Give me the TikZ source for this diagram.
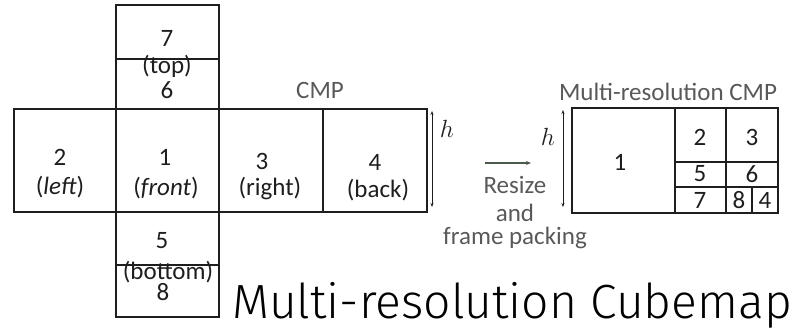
\documentclass[tikz,border=0pt]{standalone}
\usepackage{fontspec}
\setmainfont{Carlito}
\newfontfamily\titlefont{Fira Sans Light}
\usetikzlibrary{arrows.meta}
\definecolor{boxline}{HTML}{1E1E1E}
\definecolor{greytext}{HTML}{595959}
\definecolor{arrowgreen}{HTML}{4B5A4B}
\tikzset{
  boxstyle/.style={draw=boxline, line width=1.6pt},
  lbl/.style={inner sep=0pt, font=\fontsize{25}{27}\selectfont, text=boxline},
  glbl/.style={inner sep=0pt, font=\fontsize{25}{27}\selectfont, text=greytext},
  dim/.style={draw=boxline, line width=0.9pt, {Stealth[length=4pt,width=3pt]}-{Stealth[length=4pt,width=3pt]}},
  hlbl/.style={inner sep=0pt, font=\fontsize{27}{29}\selectfont, text=boxline},
}
\begin{document}
\begin{tikzpicture}[x=1pt,y=-1pt]
\useasboundingbox (0,0) rectangle (792,330);
% cross-shaped CMP layout
\draw[boxstyle] (116,5) rectangle (219,109);
\draw[boxstyle] (116,59) -- (219,59);
\draw[boxstyle] (14,109) rectangle (116,212);
\draw[boxstyle] (116,109) rectangle (219,212);
\draw[boxstyle] (219,109) rectangle (323,212);
\draw[boxstyle] (323,109) rectangle (427,212);
\draw[boxstyle] (116,212) rectangle (219,317);
\draw[boxstyle] (116,265) -- (219,265);
% labels
\node[lbl] (t7) at (167,38) {7};
\node[lbl] (ttop) at (167,66) {(top)};
\node[lbl] (t6) at (167,90) {6};
\node[lbl] (t2) at (60,157) {2};
\node[lbl] (tleft) at (60,187) {(\textit{left})};
\node[lbl] (t1) at (165,157) {1};
\node[lbl] (tfront) at (166,188) {(\textit{front})};
\node[lbl] (t3) at (262,161) {3};
\node[lbl] (tright) at (270,188) {(right)};
\node[lbl] (t4) at (375,162) {4};
\node[lbl] (tback) at (378,190) {(back)};
\node[lbl] (t5) at (162,241) {5};
\node[lbl] (tbottom) at (168,272) {(bottom)};
\node[lbl] (t8) at (163,292) {8};
\node[glbl] (cmp) at (320,90) {CMP};
% h dimension left
\coordinate (hl1) at (432,111);
\coordinate (hl2) at (432,207);
\draw[dim] (hl1) -- (hl2);
\node[hlbl] (hleft) at (447,129) {$h$};
% resize arrow
\coordinate (ra) at (485,163);
\coordinate (rb) at (531,163);
\draw[draw=arrowgreen, line width=2.2pt, -{Stealth[length=5pt,width=4pt]}] (ra) -- (rb);
\node[glbl] (resize) at (515,185) {Resize};
\node[glbl] (and) at (515,213) {and};
\node[glbl] (fp) at (515,238) {frame packing};
% h dimension right
\node[hlbl] (hright) at (548,137) {$h$};
\coordinate (hr1) at (563,110);
\coordinate (hr2) at (563,207);
\draw[dim] (hr1) -- (hr2);
% multi-resolution CMP
\node[glbl] (mrcmp) at (668,92) {Multi-resolution CMP};
\draw[boxstyle] (572,108) rectangle (778,213);
\draw[boxstyle] (675,108) -- (675,213);
\draw[boxstyle] (726,108) -- (726,213);
\draw[boxstyle] (675,162) -- (778,162);
\draw[boxstyle] (675,187) -- (778,187);
\draw[boxstyle] (752,187) -- (752,213);
\node[lbl] (m1) at (620,162) {1};
\node[lbl] (m2) at (700,137) {2};
\node[lbl] (m3) at (752,137) {3};
\node[lbl] (m5) at (700,174) {5};
\node[lbl] (m6) at (752,174) {6};
\node[lbl] (m7) at (700,200) {7};
\node[lbl] (m8) at (739,200) {8};
\node[lbl] (m4) at (765,200) {4};
% title
\node[inner sep=0pt, anchor=base west, font=\titlefont\fontsize{48}{51}\selectfont, text=black] (title) at (232,318) {Multi-resolution Cubemap};
\end{tikzpicture}
\end{document}
